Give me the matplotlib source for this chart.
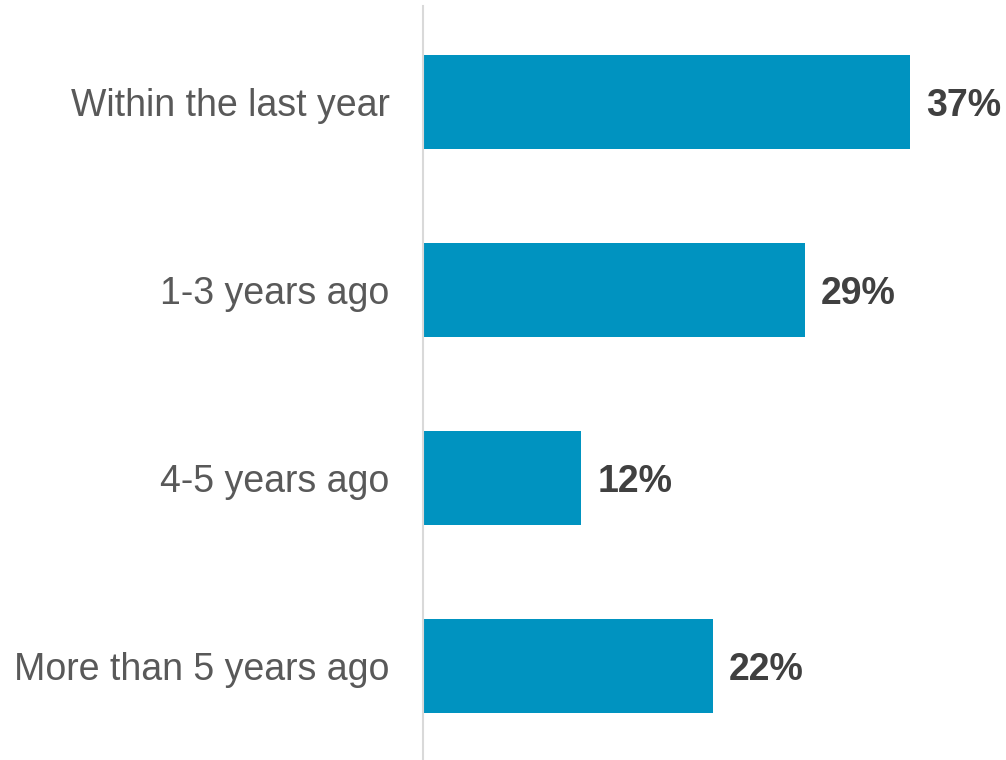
import matplotlib
matplotlib.use("Agg")
import matplotlib.pyplot as plt

categories = ["Within the last year", "1-3 years ago", "4-5 years ago", "More than 5 years ago"]
values = [37, 29, 12, 22]

plt.rcParams['font.family'] = ['Liberation Sans', 'DejaVu Sans']

fig = plt.figure(figsize=(10.06, 7.6), dpi=100)
ax = fig.add_axes([423 / 1006, 0, 1 - 423 / 1006, 754 / 760])

y = list(range(len(categories)))[::-1]
ax.barh(y, values, height=0.5, color="#0093C0", left=0)

for yi, v in zip(y, values):
    ax.text(v + 1.25, yi, f"{v}%", va="center_baseline", ha="left",
            fontsize=27, fontweight="bold", color="#404040")

ax.set_xlim(0, 583 / 13.16)
ax.set_ylim(-0.5, 3.513)
ax.set_yticks(y)
ax.set_yticklabels(categories, fontsize=27, color="#595959")
ax.tick_params(axis="y", length=0, pad=24)
ax.set_xticks([])

for s in ["top", "right", "bottom"]:
    ax.spines[s].set_visible(False)
ax.spines["left"].set_color("#d9d9d9")
ax.spines["left"].set_linewidth(1.5)

fig.savefig("out.png", dpi=100)
